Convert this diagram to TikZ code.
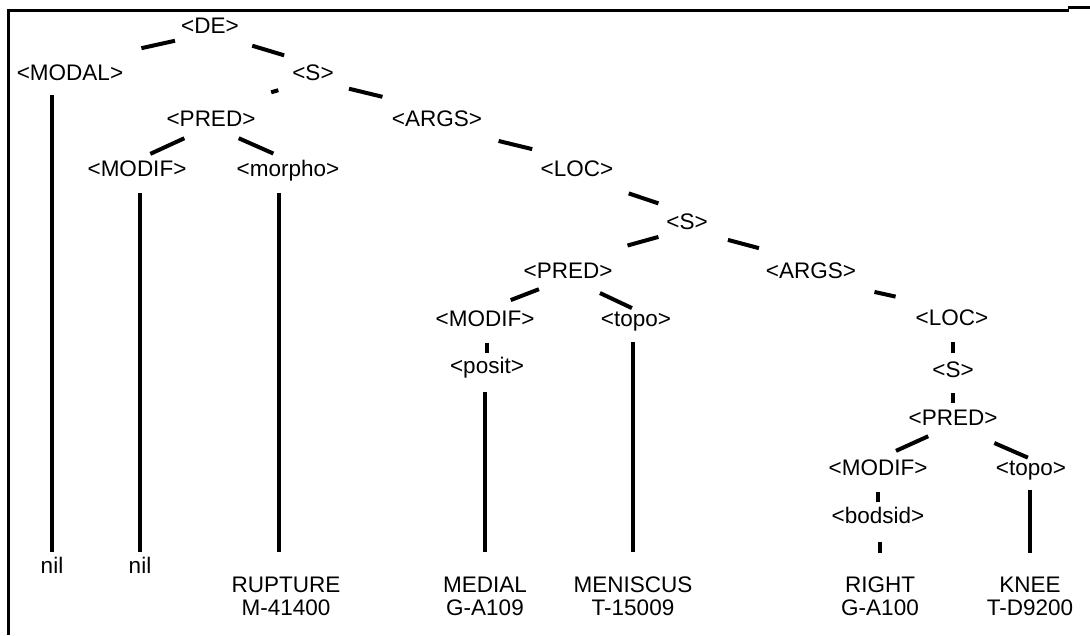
\documentclass[tikz,border=0pt]{standalone}
\usepackage{fontspec}
\setmainfont{Liberation Sans}
\usetikzlibrary{calc}

\tikzset{
  lbl/.style={inner sep=0pt, outer sep=0pt, anchor=base,
              text height=16pt, text depth=0pt,
              font=\fontsize{22.5}{23}\selectfont},
  branchline/.style={line width=4pt},
  dropline/.style={line width=3.2pt},
  frameline/.style={line width=3pt},
}

% diagonal branch: a short piece of the line from parent bottom to child top
\newcommand\treebranch[4]{%
  \draw[branchline] ($(#1.south)!#3!(#2.north)$) -- ($(#1.south)!#4!(#2.north)$);}
% vertical drop above a child, starting below its parent
\newcommand\treedrop[4]{%
  \draw[dropline, shorten <=#3pt, shorten >=#4pt] (#1.south -| #2.north) -- (#2.north);}

\begin{document}
\begin{tikzpicture}[x=1pt, y=-1pt]
\useasboundingbox (0,0) rectangle (1090,635);

% frame (top and left edges)
\draw[frameline] (8,635) -- (8,10) -- (1069,10);
\draw[frameline] (1068,7.5) -- (1090,7.5);

% nodes
\node[lbl] (de)     at (210,33)  {<DE>};
\node[lbl] (modal)  at (70,80)   {<MODAL>};
\node[lbl] (s1)     at (313,80)  {<S>};
\node[lbl] (pred1)  at (211,126) {<PRED>};
\node[lbl] (args1)  at (437,126) {<ARGS>};
\node[lbl] (modif1) at (137,176) {<MODIF>};
\node[lbl] (morpho) at (288,176) {<morpho>};
\node[lbl] (loc1)   at (577,176) {<LOC>};
\node[lbl] (s2)     at (687,229) {<S>};
\node[lbl] (pred2)  at (568,278) {<PRED>};
\node[lbl] (args2)  at (811,278) {<ARGS>};
\node[lbl] (modif2) at (485,326) {<MODIF>};
\node[lbl] (topo2)  at (636,326) {<topo>};
\node[lbl] (loc2)   at (952,325) {<LOC>};
\node[lbl] (posit)  at (487,373) {<posit>};
\node[lbl] (s3)     at (953,377) {<S>};
\node[lbl] (pred3)  at (953,425) {<PRED>};
\node[lbl] (modif3) at (878,475) {<MODIF>};
\node[lbl] (topo3)  at (1031,475) {<topo>};
\node[lbl] (bodsid) at (878,523) {<bodsid>};

% leaves
\node[lbl] (nil1)  at (52,573)  {nil};
\node[lbl] (nil2)  at (140,573) {nil};
\node[lbl] (rupt)  at (286,592) {\begin{tabular}[t]{@{}c@{}}RUPTURE\\M-41400\end{tabular}};
\node[lbl] (medi)  at (485,592) {\begin{tabular}[t]{@{}c@{}}MEDIAL\\G-A109\end{tabular}};
\node[lbl] (meni)  at (633,592) {\begin{tabular}[t]{@{}c@{}}MENISCUS\\T-15009\end{tabular}};
\node[lbl] (right) at (880,592) {\begin{tabular}[t]{@{}c@{}}RIGHT\\G-A100\end{tabular}};
\node[lbl] (knee)  at (1030,592) {\begin{tabular}[t]{@{}c@{}}KNEE\\T-D9200\end{tabular}};

% diagonal branches
\treebranch{de}{modal}{.25}{.49}
\treebranch{de}{s1}{.41}{.72}
\treebranch{s1}{pred1}{.34}{.41}
\treebranch{s1}{args1}{.29}{.56}
\treebranch{pred1}{modif1}{.36}{.82}
\treebranch{pred1}{morpho}{.36}{.81}
\treebranch{args1}{loc1}{.44}{.68}
\treebranch{loc1}{s2}{.47}{.74}
\treebranch{s2}{pred2}{.24}{.50}
\treebranch{s2}{args2}{.33}{.58}
\treebranch{pred2}{modif2}{.35}{.69}
\treebranch{pred2}{topo2}{.47}{.94}
\treebranch{args2}{loc2}{.45}{.60}
\treebranch{pred3}{modif3}{.33}{.76}
\treebranch{pred3}{topo3}{.53}{.96}

% vertical drops
\treedrop{modal}{nil1}{15}{5}
\treedrop{modif1}{nil2}{17}{5}
\draw[dropline, shorten <=17pt, shorten >=24pt]
  ($(morpho.south -| rupt.north)+(-7,0)$) -- ($(rupt.north)+(-7,0)$);
\treedrop{modif2}{posit}{17}{4}
\treedrop{posit}{medi}{19}{24}
\treedrop{topo2}{meni}{16}{24}
\treedrop{loc2}{s3}{17}{8}
\treedrop{s3}{pred3}{16}{6}
\treedrop{modif3}{bodsid}{17}{5}
\treedrop{bodsid}{right}{19}{23}
\treedrop{topo3}{knee}{15}{23}

\end{tikzpicture}
\end{document}
